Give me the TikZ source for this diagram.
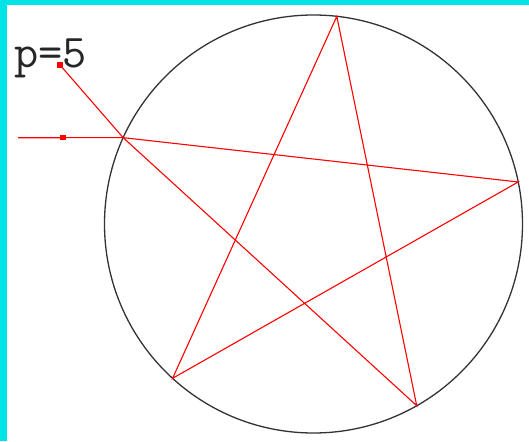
\documentclass[tikz,border=0pt]{standalone}
\usepackage{tikz}
\definecolor{frame}{RGB}{0,228,232}
\tikzset{
  rim/.style={draw=black!80, line width=1.3pt},
  edge/.style={draw=red, line width=1.1pt},
  dotmark/.style={fill=red, rectangle, inner sep=0pt, minimum size=5.5pt},
  lbl/.style={font=\ttfamily\fontsize{47}{47}\selectfont, text=black!85, inner sep=0pt, anchor=base west}
}
\begin{document}
\begin{tikzpicture}[x=1pt,y=1pt]
  \useasboundingbox (0,0) rectangle (529,-441);
  % frame
  \fill[frame] (0,0) rectangle (6.5,-441);
  \fill[frame] (0,0) rectangle (529,-5);
  % circle and star
  \coordinate (c) at (313.5,-224);
  \draw[rim] (c) circle (209);
  \foreach \i/\a in {1/83.6,2/11.6,3/-60.4,4/-132.4,5/155.6}
    \path (c) ++(\a:209) coordinate (v\i);
  \draw[edge] (v1) -- (v3) -- (v5) -- (v2) -- (v4) -- cycle;
  % lead-in
  \coordinate (s) at (18,-137.7);
  \node[dotmark] (q) at (63,-137.7) {};
  \node[dotmark] (p) at (60,-65) {};
  \draw[edge] (s) -- (q) -- (v5);
  \draw[edge] (p) -- (v5);
  \node[lbl] (plbl) at (14,-68) {p=5};
\end{tikzpicture}
\end{document}
